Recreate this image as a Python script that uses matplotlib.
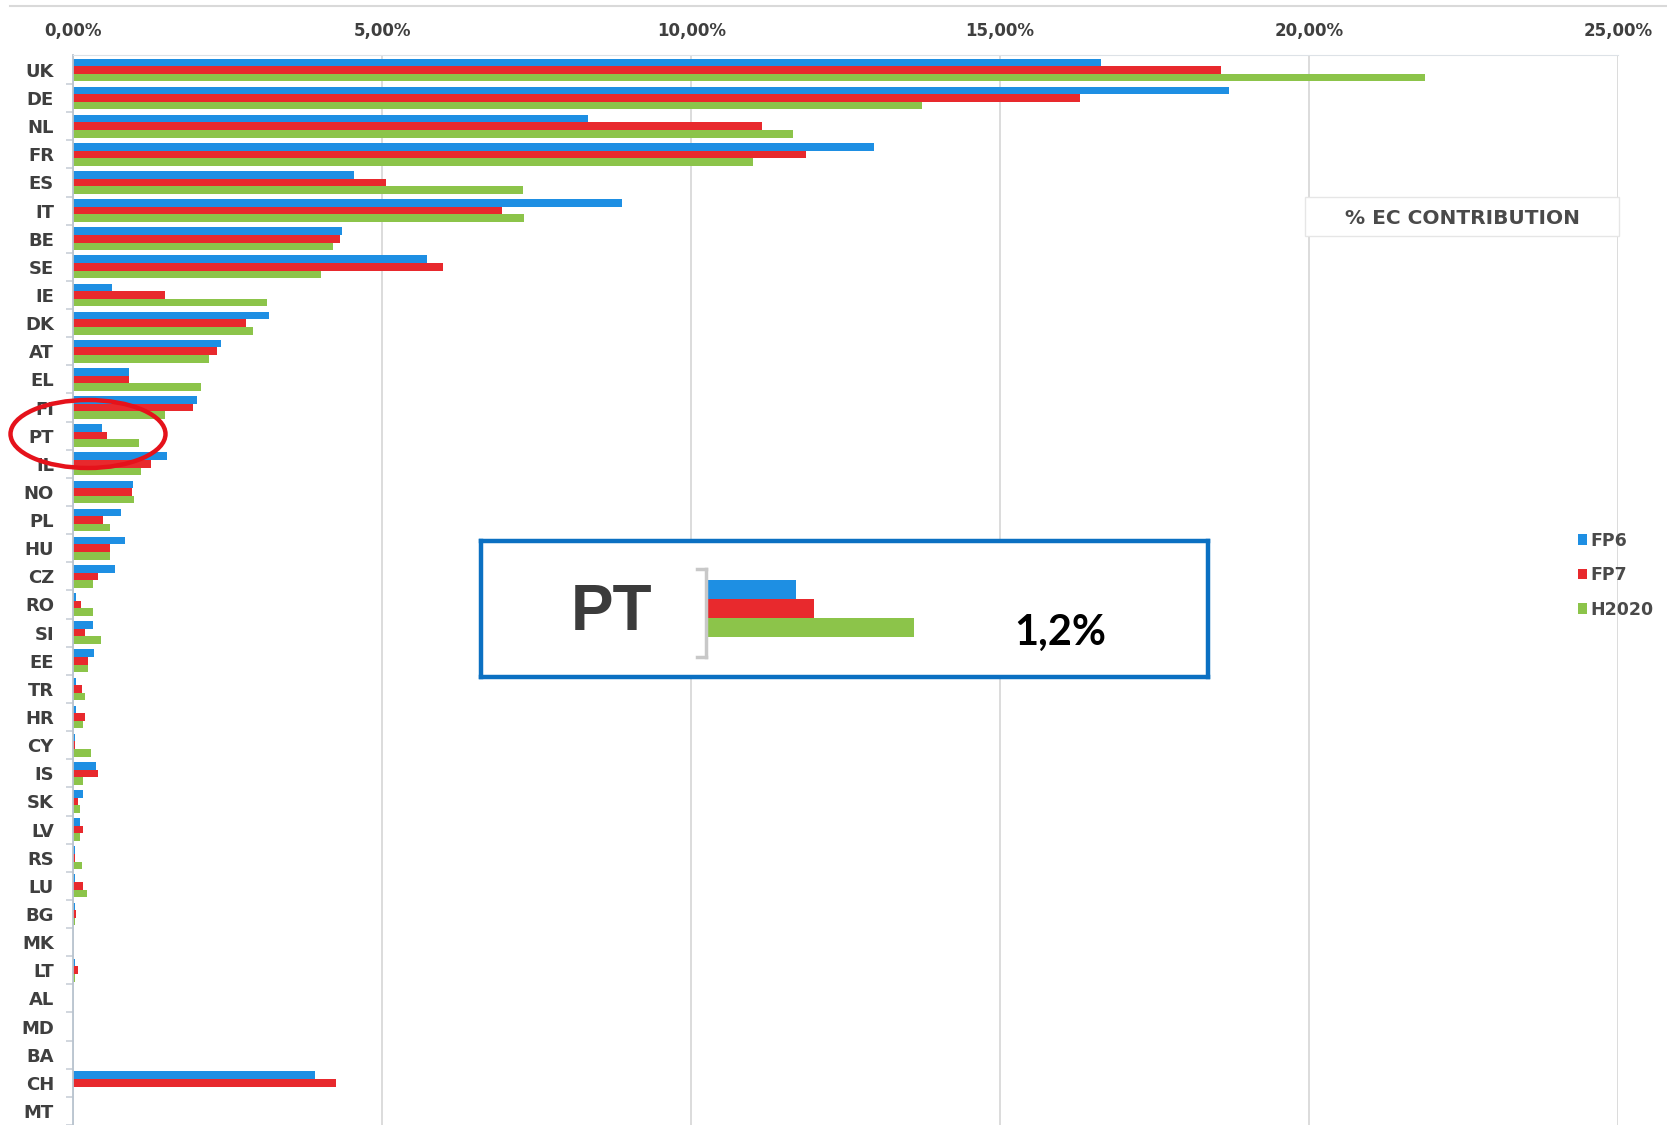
import matplotlib.pyplot as plt
import numpy as np
from matplotlib.patches import Ellipse, Rectangle
from matplotlib.lines import Line2D

# % EC contribution per country
countries = ['UK', 'DE', 'NL', 'FR', 'ES', 'IT', 'BE', 'SE', 'IE', 'DK',
             'AT', 'EL', 'FI', 'PT', 'IL', 'NO', 'PL', 'HU', 'CZ', 'RO',
             'SI', 'EE', 'TR', 'HR', 'CY', 'IS', 'SK', 'LV', 'RS', 'LU',
             'BG', 'MK', 'LT', 'AL', 'MD', 'BA', 'CH', 'MT']
fp6 = [16.63, 18.71, 8.33, 12.96, 4.54, 8.88, 4.34, 5.73, 0.62, 3.17,
       2.39, 0.90, 2.00, 0.46, 1.51, 0.96, 0.77, 0.84, 0.67, 0.05,
       0.31, 0.34, 0.05, 0.05, 0.03, 0.36, 0.16, 0.10, 0.02, 0.02,
       0.03, 0.00, 0.03, 0.00, 0.00, 0.00, 3.91, 0.00]
fp7 = [18.57, 16.30, 11.15, 11.86, 5.06, 6.94, 4.32, 5.99, 1.48, 2.79,
       2.32, 0.90, 1.93, 0.55, 1.26, 0.95, 0.48, 0.59, 0.40, 0.12,
       0.19, 0.24, 0.14, 0.19, 0.03, 0.40, 0.07, 0.16, 0.02, 0.16,
       0.05, 0.00, 0.07, 0.00, 0.00, 0.00, 4.25, 0.00]
h2020 = [21.88, 13.73, 11.65, 11.00, 7.28, 7.30, 4.20, 4.01, 3.13, 2.91,
         2.20, 2.07, 1.48, 1.06, 1.10, 0.98, 0.59, 0.59, 0.31, 0.31,
         0.45, 0.24, 0.19, 0.16, 0.29, 0.16, 0.10, 0.10, 0.14, 0.22,
         0.02, 0.00, 0.02, 0.00, 0.00, 0.00, 0.00, 0.00]
series_names = ['FP6', 'FP7', 'H2020']
xticks = [0, 5, 10, 15, 20, 25]
xtick_labels = ['0,00%', '5,00%', '10,00%', '15,00%', '20,00%', '25,00%']
highlight = 'PT'
highlight_note = '1,2%'
title = '% EC CONTRIBUTION'

colors = ['#1e8fe3', '#e8292d', '#8cc44a']
label_color = '#3f3f3f'

W, H = 1667, 1125
plt.rcParams['font.family'] = ['DejaVu Sans']


def fx(px):
    return px / W


def fy(py):
    return 1 - py / H


fig = plt.figure(figsize=(W / 100, H / 100), dpi=100)
ax = fig.add_axes([fx(73.4), 0, (1618 - 73.4) / W, 1 - 55 / H])

y = np.arange(len(countries))
h = 0.27
bars = []
for k, vals in enumerate([fp6, fp7, h2020]):
    bars.append(ax.barh(y + (k - 1) * h, vals, height=h, color=colors[k],
                        label=series_names[k], zorder=2))

ax.set_xlim(0, 25)
ax.set_ylim(37.46, -0.53)
ax.xaxis.tick_top()
ax.set_xticks(xticks)
ax.set_xticklabels(xtick_labels, fontsize=12, fontweight='bold', color=label_color)
ax.tick_params(axis='x', length=0, pad=11)
ax.set_yticks(y)
ax.set_yticklabels(countries, fontsize=13, fontweight='bold', color=label_color)
ax.set_yticks(y + 0.5, minor=True)
ax.tick_params(axis='y', which='major', length=0, pad=14)
ax.tick_params(axis='y', which='minor', length=5, color='#c9d0d8', width=1.2)
ax.grid(axis='x', color='#d9d9d9', lw=1.3, zorder=0)
ax.set_axisbelow(True)
for s in ['right', 'bottom']:
    ax.spines[s].set_visible(False)
ax.spines['left'].set_color('#b9c4cf')
ax.spines['left'].set_linewidth(1.3)
ax.spines['top'].set_color('#dde2e7')

# faint rule along the top of the picture
fig.add_artist(Line2D([fx(10), 1], [fy(6), fy(6)], color='#d9d9d9', lw=1.5))

# title box
fig.add_artist(Rectangle((fx(1305), fy(236)), (1619 - 1305) / W, 39 / H,
                         transform=fig.transFigure, fc='white', ec='#e6e6e6',
                         lw=1, zorder=1))
fig.text(fx(1462), fy(218), title, ha='center', va='center', fontsize=14.5,
         fontweight='bold', color='#4a4a4a', zorder=2)

ax.legend(handles=bars, labels=series_names, loc='upper left',
          bbox_to_anchor=(fx(1562), fy(516)), bbox_transform=fig.transFigure,
          frameon=False, handlelength=0.55, handleheight=0.55,
          handletextpad=0.2, labelspacing=0.95,
          prop={'size': 12.5, 'weight': 'bold'}, labelcolor='#4a4a4a')

# zoomed inset of the highlighted country
i = countries.index(highlight)
inset = fig.add_axes([fx(480.5), fy(677), (1207.6 - 480.5) / W, 136 / H])
inset.set_zorder(3)
inset.set_xlim(-226 / 196, (1207.6 - 706) / 196)
inset.set_ylim(4.61, -2.55)
inset.barh([0, 1, 2], [fp6[i], fp7[i], h2020[i]], height=1, color=colors)
inset.plot([0, 0], [-1.08, 3.56], color='#c8c8c8', lw=2.5)
inset.plot([-0.05, 0], [-1.08, -1.08], color='#c8c8c8', lw=2.5)
inset.plot([-0.05, 0], [3.56, 3.56], color='#c8c8c8', lw=2.5)
inset.text(-0.485, 1.25, highlight, ha='center', va='center', fontsize=46,
           fontweight='bold', color='#3b3b3b',
           family=['Liberation Sans', 'DejaVu Sans'])
inset.text(1.806, 2.3, highlight_note, ha='center', va='center', fontsize=30,
           fontweight='bold', color='black', family=['Lato', 'DejaVu Sans'])
inset.set_xticks([])
inset.set_yticks([])
for s in inset.spines.values():
    s.set_color('#0b70c2')
    s.set_linewidth(3.2)

# red ring around the highlighted row
fig.add_artist(Ellipse((fx(88), fy(434)), width=155 / W, height=68 / H,
                       transform=fig.transFigure, fill=False, ec='#e5121b',
                       lw=3.2, zorder=5))

fig.savefig('out.png', dpi=100)
